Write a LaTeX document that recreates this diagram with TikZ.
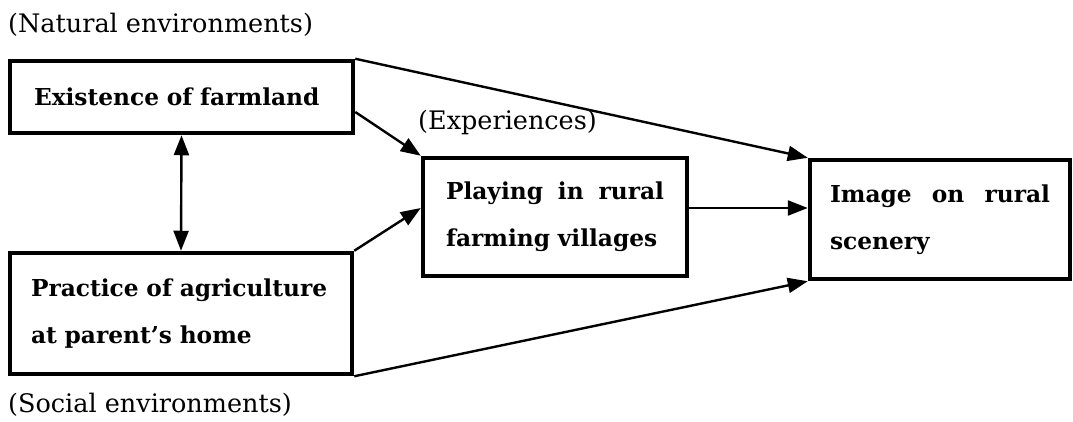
\documentclass[tikz,border=0pt]{standalone}
\usepackage{fontspec}
\setmainfont{DejaVu Serif}
\usetikzlibrary{arrows.meta,calc}
\begin{document}
\begin{tikzpicture}[x=1pt,y=-1pt,
  box/.style={draw, line width=4.5pt, rectangle, inner ysep=0pt, align=left,
    font=\bfseries\fontsize{23.3}{47}\selectfont, anchor=center},
  conn/.style={line width=2.4pt, -{Triangle[length=20pt,width=15pt]}},
  dconn/.style={line width=2.4pt, {Triangle[length=20pt,width=15pt]}-{Triangle[length=20pt,width=15pt]}},
  lbl/.style={anchor=west, inner sep=0pt, font=\fontsize{25.5}{30}\selectfont}]
\useasboundingbox[fill=white] (0,0) rectangle (1073,422);

\node[box, inner xsep=24pt, text width=295pt, minimum height=72pt] (A) at (181.5,97) {Existence of farmland};
\node[box, inner xsep=21pt, text width=300pt, minimum height=121pt] (B) at (181,313.5) {\mbox{Practice of agriculture}\\at parent's home};
\node[box, inner xsep=23pt, text width=218pt, minimum height=118pt] (C) at (555,217) {\makebox[218pt]{Playing\hfill in\hfill rural}\\farming villages};
\node[box, inner xsep=20pt, text width=220pt, minimum height=119pt] (D) at (940,219.5) {\makebox[220pt]{Image\hfill on\hfill rural}\\scenery};

\node[lbl] (nat) at (8,25) {(Natural environments)};
\node[lbl] (soc) at (8,405) {(Social environments)};
\node[lbl] (exp) at (418,122) {(Experiences)};

\draw[conn] (A.north east) -- (D.north west);
\draw[conn] ([yshift=-15pt]A.east) -- (C.north west);
\draw[conn] (B.north east) -- ([yshift=9pt]C.west);
\draw[conn] (B.south east) -- (D.south west);
\coordinate (cd) at ([yshift=9pt]C.east);
\draw[conn] (cd) -- (cd -| D.west);
\draw[dconn] (A.south) -- (B.north);
\end{tikzpicture}
\end{document}
